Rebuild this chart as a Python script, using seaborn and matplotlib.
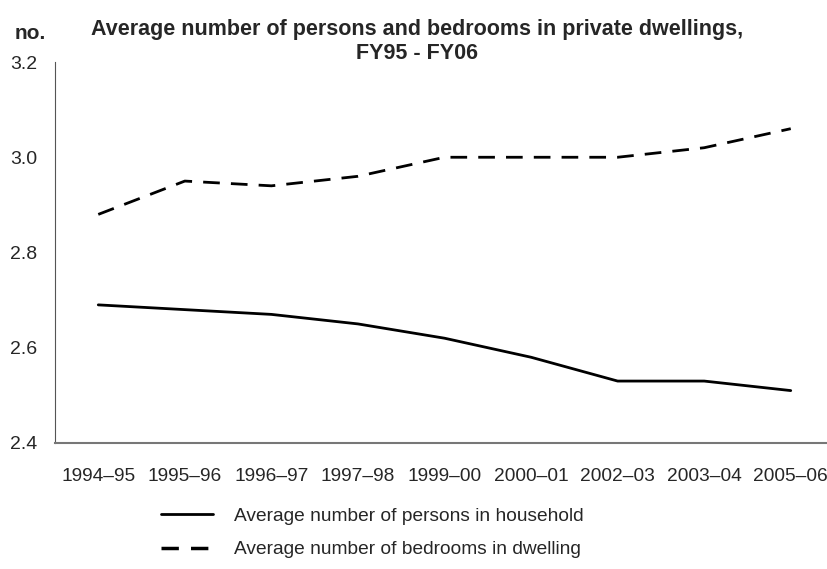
import matplotlib
matplotlib.use("Agg")
import matplotlib.pyplot as plt
import seaborn as sns
import pandas as pd
from matplotlib.lines import Line2D

years = ["1994–95", "1995–96", "1996–97", "1997–98", "1999–00", "2000–01", "2002–03", "2003–04", "2005–06"]
persons = [2.69, 2.68, 2.67, 2.65, 2.62, 2.58, 2.53, 2.53, 2.51]
bedrooms = [2.88, 2.95, 2.94, 2.96, 3.00, 3.00, 3.00, 3.02, 3.06]
series_names = ["Average number of persons in household", "Average number of bedrooms in dwelling"]
y_ticks = [2.4, 2.6, 2.8, 3.0, 3.2]

sns.set_style("white")
plt.rcParams['font.family'] = ['Liberation Sans', 'DejaVu Sans']

df = pd.DataFrame({
    "x": list(range(len(years))) * 2,
    "value": persons + bedrooms,
    "series": [series_names[0]] * len(years) + [series_names[1]] * len(years),
})

fig = plt.figure(figsize=(8.27, 5.69), dpi=100)
ax = fig.add_axes([0.0665, 0.2215, 0.942, 0.6695])
sns.lineplot(data=df, x="x", y="value", style="series", hue="series",
             palette=["black", "black"], dashes={series_names[0]: "", series_names[1]: (6, 4)},
             linewidth=2, ax=ax, legend=False)

ax.set_xlim(-0.5, len(years) - 0.5)
ax.set_ylim(2.4, 3.2)
ax.set_yticks(y_ticks)
ax.set_yticklabels([f"{v:.1f}" for v in y_ticks], fontsize=14)
ax.set_xticks([i + 0.5 for i in range(len(years))])
ax.set_xticklabels([])
ax.set_xticks(range(len(years)), minor=True)
ax.set_xticklabels(years, minor=True, fontsize=13.8)
ax.tick_params(axis="x", which="minor", length=0, pad=18)
ax.tick_params(axis="x", which="major", length=7, direction="out", color="#555555", width=1)
ax.tick_params(axis="y", length=6, direction="out", color="#555555", width=1, pad=7)
ax.set_xlabel("")
ax.set_ylabel("")
for s in ["top", "right"]:
    ax.spines[s].set_visible(False)
ax.spines["left"].set_color("#555555")
ax.spines["bottom"].set_color("#777777")
ax.spines["bottom"].set_linewidth(1.5)

fig.text(0.504, 0.927, "Average number of persons and bedrooms in private dwellings,\nFY95 - FY06",
         ha="center", va="center", fontsize=15.5, fontweight="bold", linespacing=1.15)
fig.text(0.018, 0.942, "no.", ha="left", va="center", fontsize=15, fontweight="bold")

handles = [Line2D([], [], color="black", lw=2),
           Line2D([], [], color="black", lw=2.5, dashes=(5, 3.5))]
fig.legend(handles, series_names, loc="upper left", bbox_to_anchor=(0.186, 0.122), frameon=False,
           fontsize=13.8, handlelength=2.7, handletextpad=1.1, labelspacing=0.85,
           borderaxespad=0)

fig.savefig("out.png", dpi=100)
